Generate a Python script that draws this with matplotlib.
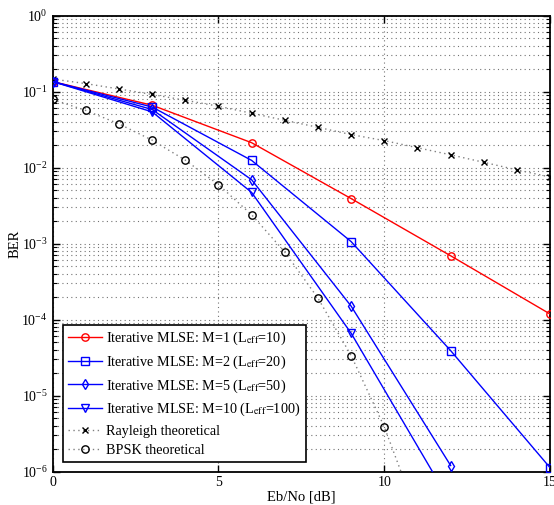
import matplotlib
matplotlib.use("Agg")
import matplotlib.pyplot as plt
from matplotlib.ticker import LogLocator, FixedLocator, NullFormatter

plt.rcParams['font.family'] = ['Liberation Serif', 'DejaVu Serif']
plt.rcParams['mathtext.fontset'] = 'stix'

# data
snr_mlse = [0, 3, 6, 9, 12, 15]
ber_m1 = [0.135, 0.066, 0.0212, 0.0039, 6.9e-4, 1.18e-4]
ber_m2 = [0.135, 0.0625, 0.0124, 1.06e-3, 3.9e-5, 1.12e-6]
ber_m5 = [0.135, 0.058, 0.0069, 1.5e-4, 1.2e-6]
ber_m10 = [0.135, 0.054, 0.0047, 6.6e-5, 3.9e-7]
snr_m5 = [0, 3, 6, 9, 12]
snr_m10 = [0, 3, 6, 9, 12]

snr_ray = list(range(0, 16))
ber_ray = [0.146, 0.127, 0.108, 0.0914, 0.0767, 0.064, 0.0517, 0.0418,
           0.0338, 0.0271, 0.0226, 0.0182, 0.0147, 0.0117, 0.0093, 0.0075]
snr_bpsk = list(range(0, 12))
ber_bpsk = [0.0786, 0.0563, 0.0375, 0.0229, 0.0125, 0.00595, 0.00239,
            7.73e-4, 1.91e-4, 3.36e-5, 3.87e-6, 2.61e-7]

labels = [r'Iterative MLSE: M=1 (L$_{\rm eff}$=10)',
          r'Iterative MLSE: M=2 (L$_{\rm eff}$=20)',
          r'Iterative MLSE: M=5 (L$_{\rm eff}$=50)',
          r'Iterative MLSE: M=10 (L$_{\rm eff}$=100)',
          'Rayleigh theoretical',
          'BPSK theoretical']

fig = plt.figure(figsize=(5.54, 5.05), dpi=100)
ax = fig.add_axes([0.095, 0.0663, 0.898, 0.903])

ms = 5.3
ax.semilogy(snr_mlse, ber_m1, '-', color='#ff0000', lw=1, marker='o', ms=ms,
            mfc='none', mec='#ff0000', label=labels[0], zorder=4)
ax.semilogy(snr_mlse, ber_m2, '-', color='#0000ff', lw=1, marker='s', ms=ms,
            mfc='none', mec='#0000ff', label=labels[1], zorder=4)
ax.semilogy(snr_m5, ber_m5, '-', color='#0000ff', lw=1, marker='d', ms=ms,
            mfc='none', mec='#0000ff', label=labels[2], zorder=4)
ax.semilogy(snr_m10, ber_m10, '-', color='#0000ff', lw=1, marker='v', ms=ms,
            mfc='none', mec='#0000ff', label=labels[3], zorder=4)
ax.semilogy(snr_ray, ber_ray, color='0.5', lw=1, ls=(0, (1, 2.5)), marker='x',
            ms=4, mec='black', mew=1, label=labels[4], zorder=3)
ax.semilogy(snr_bpsk, ber_bpsk, color='0.5', lw=1, ls=(0, (1, 2.5)), marker='o',
            ms=ms, mfc='none', mec='black', label=labels[5], zorder=3)

ax.set_xlim(0, 15)
ax.set_ylim(1e-6, 1)
ax.xaxis.set_major_locator(FixedLocator([0, 5, 10, 15]))
ax.yaxis.set_major_locator(LogLocator(base=10, numticks=10))
ax.yaxis.set_minor_locator(LogLocator(base=10, subs=range(2, 10), numticks=20))
ax.yaxis.set_minor_formatter(NullFormatter())

grid_kw = dict(linestyle=(0, (1, 3)), color='0.45', lw=0.8)
ax.grid(True, which='major', axis='both', **grid_kw)
ax.grid(True, which='minor', axis='y', **grid_kw)

ax.tick_params(which='both', direction='in', top=True, right=True,
               labelsize=10, colors='black')
ax.tick_params(which='major', length=5, width=1)
ax.tick_params(which='minor', length=3, width=0.8)
for s in ax.spines.values():
    s.set_linewidth(1.3)

ax.set_xlabel('Eb/No [dB]', fontsize=10.5, labelpad=1)
ax.set_ylabel('BER', fontsize=10.5)
ax.yaxis.set_label_coords(-0.063, 0.5)

leg = ax.legend(loc='lower left', bbox_to_anchor=(0.021, 0.021),
                borderaxespad=0, fontsize=10.2, fancybox=False,
                framealpha=1, edgecolor='black', handlelength=2.4,
                handletextpad=0.3, labelspacing=0.45, borderpad=0.35)
leg.get_frame().set_linewidth(1.2)

fig.savefig('out.png', dpi=100)
